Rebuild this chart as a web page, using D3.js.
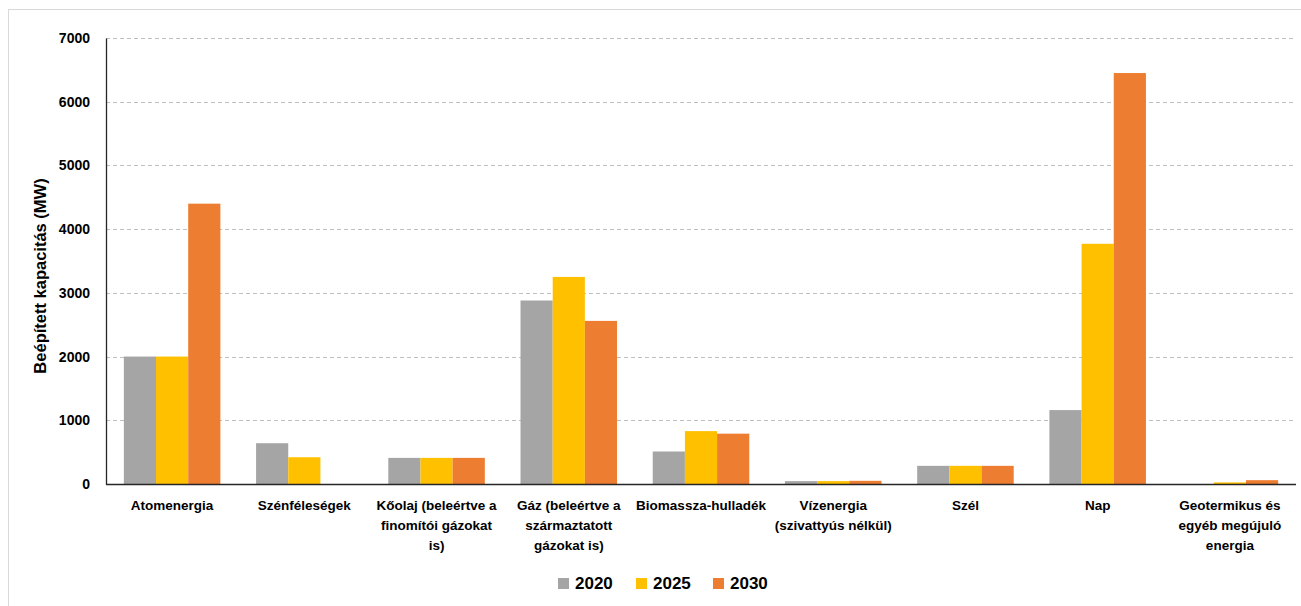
<!DOCTYPE html>
<html>
<head>
<meta charset="utf-8">
<script src="https://cdn.jsdelivr.net/npm/d3@7"></script>
<style>
  html, body { margin: 0; padding: 0; background: #fff; }
  svg { display: block; font-family: "Liberation Sans Narrow", "Liberation Sans", Arial, sans-serif; }
</style>
</head>
<body>
<svg id="chart" width="1301" height="606"></svg>
<script>
// Installed capacity by energy source (MW)
const categories = [
  "Atomenergia",
  "Szénféleségek",
  "Kőolaj (beleértve a\nfinomítói gázokat\nis)",
  "Gáz (beleértve a\nszármaztatott\ngázokat is)",
  "Biomassza-hulladék",
  "Vízenergia\n(szivattyús nélkül)",
  "Szél",
  "Nap",
  "Geotermikus és\negyéb megújuló\nenergia"
];
const years = ["2020", "2025", "2030"];
const values2020 = [2000, 640, 410, 2880, 510, 45, 285, 1160, 0];
const values2025 = [2000, 420, 410, 3250, 830, 45, 285, 3770, 25];
const values2030 = [4400, 0, 410, 2560, 790, 50, 285, 6450, 60];
const yTicks = [0, 1000, 2000, 3000, 4000, 5000, 6000, 7000];
const colors = ["#a5a5a5", "#ffc000", "#ed7d31"];

const series = [values2020, values2025, values2030];
const svg = d3.select("#chart");

// Outer frame
svg.append("rect")
  .attr("x", 8.5).attr("y", 9.5)
  .attr("width", 1300).attr("height", 620)
  .attr("fill", "none").attr("stroke", "#d9d9d9").attr("stroke-width", 1);

const plot = { left: 106, right: 1296, top: 38, bottom: 484 };

const x = d3.scaleBand()
  .domain(categories)
  .range([plot.left, plot.right])
  .paddingInner(0.27)
  .paddingOuter(0.135);

const xs = d3.scaleBand()
  .domain(years)
  .range([0, x.bandwidth()]);

const y = d3.scaleLinear()
  .domain([0, 7000])
  .range([plot.bottom, plot.top]);

// Gridlines
svg.append("g")
  .selectAll("line")
  .data(yTicks.filter(d => d > 0))
  .join("line")
  .attr("x1", plot.left).attr("x2", plot.right)
  .attr("y1", d => Math.round(y(d)) + 0.5)
  .attr("y2", d => Math.round(y(d)) + 0.5)
  .attr("stroke", "#bfbfbf")
  .attr("stroke-width", 1)
  .attr("stroke-dasharray", "4,3");

// Bars
const groups = svg.append("g")
  .selectAll("g")
  .data(categories.map((c, i) => ({ c, i })))
  .join("g")
  .attr("transform", d => `translate(${x(d.c)},0)`);

groups.selectAll("rect")
  .data(d => years.map((yr, k) => ({ yr, k, v: series[k][d.i] })))
  .join("rect")
  .attr("x", d => xs(d.yr))
  .attr("width", xs.bandwidth())
  .attr("y", d => y(d.v))
  .attr("height", d => y(0) - y(d.v))
  .attr("fill", d => colors[d.k]);

// Y axis
const yAxis = svg.append("g")
  .attr("transform", `translate(${plot.left},0)`)
  .call(d3.axisLeft(y).tickValues(yTicks).tickSize(0).tickPadding(16).tickFormat(d3.format("d")));
yAxis.select(".domain").attr("stroke", "#262626").attr("stroke-width", 1.3);
yAxis.selectAll("text")
  .attr("font-size", 14).attr("font-weight", "bold").attr("fill", "#000")
  .style("font-family", "inherit");

// X axis line
svg.append("line")
  .attr("x1", plot.left).attr("x2", plot.right)
  .attr("y1", plot.bottom + 0.5).attr("y2", plot.bottom + 0.5)
  .attr("stroke", "#262626").attr("stroke-width", 1.3);

// Category labels
const labels = svg.append("g")
  .selectAll("text")
  .data(categories)
  .join("text")
  .attr("text-anchor", "middle")
  .attr("font-size", 13.5).attr("font-weight", "bold").attr("fill", "#000")
  .attr("transform", d => `translate(${x(d) + x.bandwidth() / 2},510)`);
labels.selectAll("tspan")
  .data(d => d.split("\n"))
  .join("tspan")
  .attr("x", 0)
  .attr("y", (d, i) => i * 20)
  .text(d => d);

// Y axis title
svg.append("text")
  .attr("transform", "translate(46,276) rotate(-90)")
  .attr("text-anchor", "middle")
  .attr("font-size", 16.5).attr("font-weight", "bold").attr("fill", "#000")
  .text("Beépített kapacitás (MW)");

// Legend
const legendX = [558, 636, 713];
const legend = svg.append("g")
  .selectAll("g")
  .data(years)
  .join("g")
  .attr("transform", (d, i) => `translate(${legendX[i]},578)`);
legend.append("rect")
  .attr("width", 11).attr("height", 11)
  .attr("fill", (d, i) => colors[i]);
legend.append("text")
  .attr("x", 17).attr("y", 11)
  .attr("font-size", 17).attr("font-weight", "bold").attr("fill", "#000")
  .text(d => d);
</script>
</body>
</html>
